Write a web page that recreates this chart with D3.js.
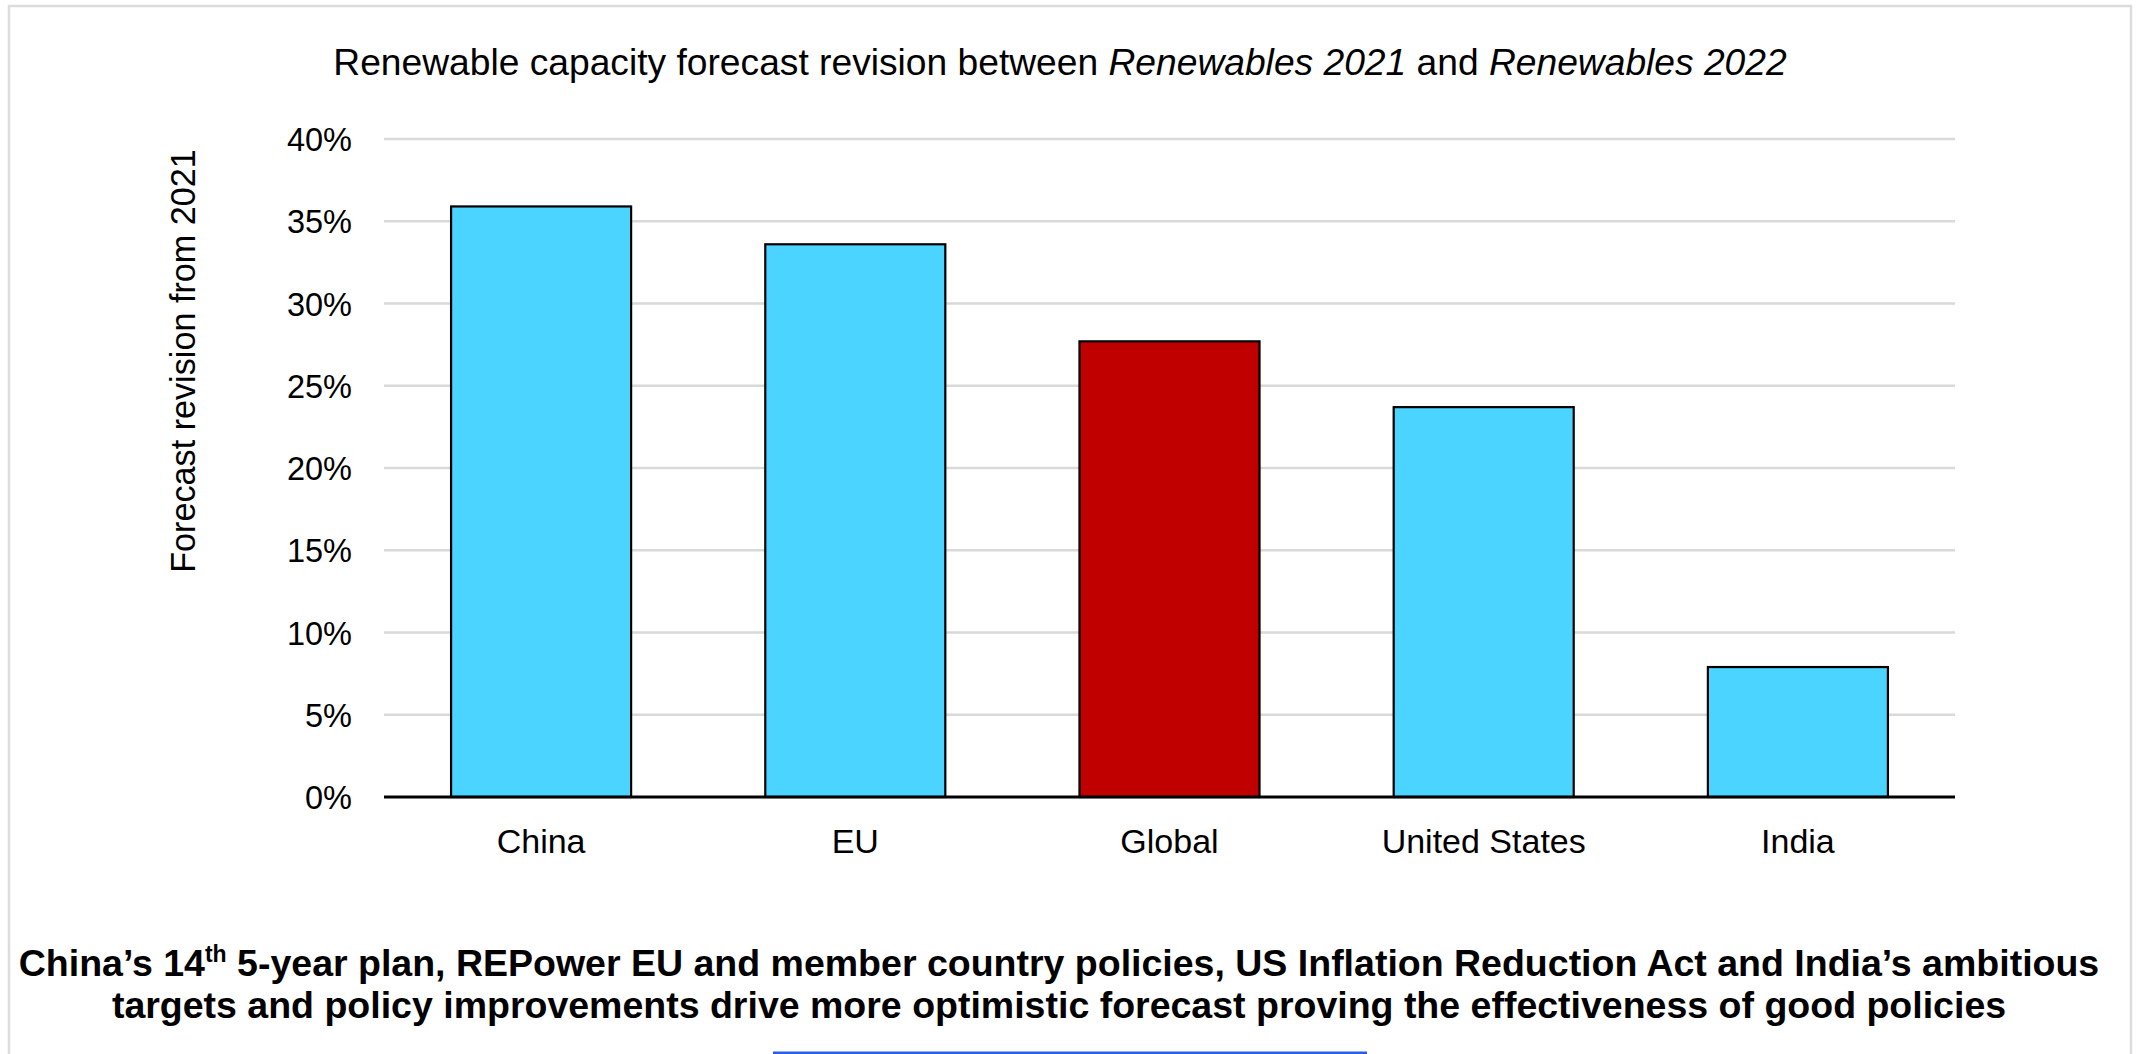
<!DOCTYPE html>
<html>
<head>
<meta charset="utf-8">
<script src="https://cdn.jsdelivr.net/npm/d3@7"></script>
<style>
  html, body { margin: 0; padding: 0; background: #ffffff; }
  svg { display: block; font-family: "Liberation Sans", Arial, sans-serif; }
</style>
</head>
<body>
<svg id="chart" width="2141" height="1054"></svg>
<script>
// Forecast revision by region, Renewables 2021 -> Renewables 2022
const categories = ["China", "EU", "Global", "United States", "India"];
const revisions = [0.359, 0.336, 0.277, 0.237, 0.079];
const yTicks = [0, 0.05, 0.10, 0.15, 0.20, 0.25, 0.30, 0.35, 0.40];
const highlighted = "Global";

const svg = d3.select("#chart");

// outer panel frame (open at the bottom)
svg.append("path")
  .attr("d", "M9,1060 V6 H2131 V1060")
  .attr("fill", "none")
  .attr("stroke", "#dcdcdc")
  .attr("stroke-width", 2.5);

const x = d3.scaleBand()
  .domain(categories)
  .range([384, 1955])
  .paddingInner(0.427)
  .paddingOuter(0.2135);

const y = d3.scaleLinear()
  .domain([0, 0.40])
  .range([797, 139]);

// horizontal gridlines
svg.append("g")
  .selectAll("line")
  .data(yTicks.filter(d => d > 0))
  .join("line")
  .attr("x1", 384).attr("x2", 1955)
  .attr("y1", d => y(d)).attr("y2", d => y(d))
  .attr("stroke", "#d9d9d9")
  .attr("stroke-width", 2.7);

// y axis labels
const yAxis = d3.axisLeft(y)
  .tickValues(yTicks)
  .tickFormat(d3.format(".0%"))
  .tickSize(0)
  .tickPadding(32);

svg.append("g")
  .attr("transform", "translate(384,0)")
  .call(yAxis)
  .call(g => g.select(".domain").remove())
  .call(g => g.selectAll("text")
    .attr("font-family", "Liberation Sans, Arial, sans-serif")
    .attr("font-size", 32.5)
    .attr("fill", "#000")
    .attr("dy", "0.36em"));

// bars
svg.append("g")
  .selectAll("rect")
  .data(categories.map((c, i) => ({ c, v: revisions[i] })))
  .join("rect")
  .attr("x", d => x(d.c))
  .attr("y", d => y(d.v))
  .attr("width", x.bandwidth())
  .attr("height", d => y(0) - y(d.v))
  .attr("fill", d => d.c === highlighted ? "#c00000" : "#4ad4ff")
  .attr("stroke", "#000")
  .attr("stroke-width", 2.2);

// category axis
const xAxis = d3.axisBottom(x).tickSize(0).tickPadding(30);
svg.append("g")
  .attr("transform", "translate(0,797)")
  .call(xAxis)
  .call(g => g.select(".domain")
    .attr("d", "M384,0H1955")
    .attr("stroke", "#000")
    .attr("stroke-width", 2.8))
  .call(g => g.selectAll("text")
    .attr("font-family", "Liberation Sans, Arial, sans-serif")
    .attr("font-size", 34)
    .attr("fill", "#000")
    .attr("dy", null)
    .attr("y", 56));

// y axis title
svg.append("text")
  .attr("transform", "translate(195,361) rotate(-90)")
  .attr("text-anchor", "middle")
  .attr("font-size", 34.2)
  .attr("fill", "#000")
  .text("Forecast revision from 2021");

// chart title with italic report names
const title = svg.append("text")
  .attr("x", 1060)
  .attr("y", 75)
  .attr("text-anchor", "middle")
  .attr("font-size", 37.2)
  .attr("fill", "#000");
title.append("tspan").text("Renewable capacity forecast revision between ");
title.append("tspan").attr("font-style", "italic").text("Renewables 2021");
title.append("tspan").text(" and ");
title.append("tspan").attr("font-style", "italic").text("Renewables 2022");

// takeaway caption
const cap1 = svg.append("text")
  .attr("x", 1059).attr("y", 976)
  .attr("text-anchor", "middle")
  .attr("font-size", 37.5)
  .attr("font-weight", "bold")
  .attr("fill", "#000");
cap1.append("tspan").text("China\u2019s 14");
cap1.append("tspan").attr("font-size", 23).attr("dy", -14).text("th");
cap1.append("tspan").attr("dy", 14).text(" 5-year plan, REPower EU and member country policies, US Inflation Reduction Act and India\u2019s ambitious");

svg.append("text")
  .attr("x", 1059).attr("y", 1018)
  .attr("text-anchor", "middle")
  .attr("font-size", 37.5)
  .attr("font-weight", "bold")
  .attr("fill", "#000")
  .text("targets and policy improvements drive more optimistic forecast proving the effectiveness of good policies");

// link underline strip at the foot of the panel
svg.append("rect")
  .attr("x", 773).attr("y", 1051.5)
  .attr("width", 594).attr("height", 3)
  .attr("fill", "#2a5ee8");
</script>
</body>
</html>
